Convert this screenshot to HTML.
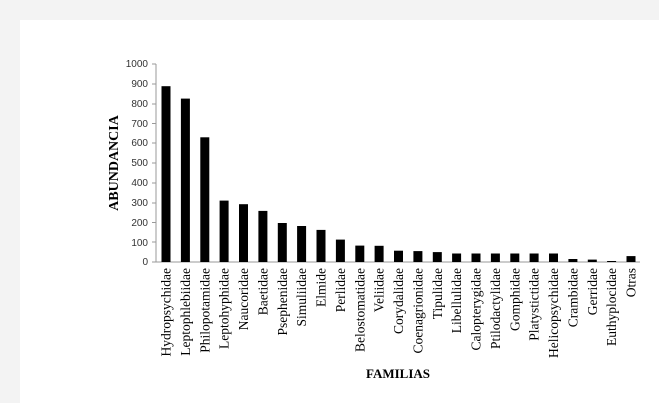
<!DOCTYPE html>
<html><head><meta charset="utf-8"><style>
html,body{margin:0;padding:0;background:#f3f3f3;}
svg{display:block;}
</style></head><body>
<svg width="659" height="403" xmlns="http://www.w3.org/2000/svg">
<rect x="0" y="0" width="659" height="403" fill="#f3f3f3"/>
<rect x="20" y="20" width="639" height="383" fill="#fff"/>
<g font-family="Liberation Sans, sans-serif" font-size="10" fill="#333" text-anchor="end">
<text x="148" y="67">1000</text><text x="148" y="87">900</text><text x="148" y="107">800</text><text x="148" y="127">700</text><text x="148" y="146">600</text><text x="148" y="166">500</text><text x="148" y="186">400</text><text x="148" y="206">300</text><text x="148" y="226">200</text><text x="148" y="246">100</text><text x="148" y="265">0</text>
</g>
<g stroke="#999" stroke-width="1">
<line x1="156" y1="64" x2="156" y2="262"/>
<line x1="156" y1="262" x2="640" y2="262"/>
<line x1="152" y1="64" x2="156" y2="64"/><line x1="152" y1="84" x2="156" y2="84"/><line x1="152" y1="104" x2="156" y2="104"/><line x1="152" y1="123.5" x2="156" y2="123.5"/><line x1="152" y1="143" x2="156" y2="143"/><line x1="152" y1="163" x2="156" y2="163"/><line x1="152" y1="183" x2="156" y2="183"/><line x1="152" y1="203" x2="156" y2="203"/><line x1="152" y1="222.5" x2="156" y2="222.5"/><line x1="152" y1="242" x2="156" y2="242"/><line x1="152" y1="262" x2="156" y2="262"/>
</g>
<g fill="#000">
<rect x="161.5" y="86.2" width="9" height="175.8"/>
<rect x="180.9" y="98.6" width="9" height="163.4"/>
<rect x="200.3" y="137.3" width="9" height="124.7"/>
<rect x="219.6" y="200.6" width="9" height="61.4"/>
<rect x="239" y="204.2" width="9" height="57.8"/>
<rect x="258.4" y="210.9" width="9" height="51.1"/>
<rect x="277.8" y="223" width="9" height="39"/>
<rect x="297.1" y="226" width="9" height="36"/>
<rect x="316.5" y="229.9" width="9" height="32.1"/>
<rect x="335.9" y="239.6" width="9" height="22.4"/>
<rect x="355.3" y="245.6" width="9" height="16.4"/>
<rect x="374.6" y="245.8" width="9" height="16.2"/>
<rect x="394" y="250.7" width="9" height="11.3"/>
<rect x="413.4" y="251.1" width="9" height="10.9"/>
<rect x="432.8" y="252.1" width="9" height="9.9"/>
<rect x="452.1" y="253.5" width="9" height="8.5"/>
<rect x="471.5" y="253.5" width="9" height="8.5"/>
<rect x="490.9" y="253.5" width="9" height="8.5"/>
<rect x="510.3" y="253.5" width="9" height="8.5"/>
<rect x="529.6" y="253.5" width="9" height="8.5"/>
<rect x="549" y="253.5" width="9" height="8.5"/>
<rect x="568.4" y="259" width="9" height="3"/>
<rect x="587.8" y="259.6" width="9" height="2.4"/>
<rect x="607.1" y="261" width="9" height="1"/>
<rect x="626.5" y="256.1" width="9" height="5.9"/>
</g>
<g font-family="Liberation Serif, serif" font-size="13.5" fill="#000" text-anchor="end">
<text transform="translate(170.5,268) rotate(-90)">Hydropsychidae</text>
<text transform="translate(189.9,268) rotate(-90)">Leptophlebiidae</text>
<text transform="translate(209.3,268) rotate(-90)">Philopotamidae</text>
<text transform="translate(228.6,268) rotate(-90)">Leptohyphidae</text>
<text transform="translate(248,268) rotate(-90)">Naucoridae</text>
<text transform="translate(267.4,268) rotate(-90)">Baetidae</text>
<text transform="translate(286.8,268) rotate(-90)">Psephenidae</text>
<text transform="translate(306.1,268) rotate(-90)">Simuliidae</text>
<text transform="translate(325.5,268) rotate(-90)">Elmide</text>
<text transform="translate(344.9,268) rotate(-90)">Perlidae</text>
<text transform="translate(364.3,268) rotate(-90)">Belostomatidae</text>
<text transform="translate(383.6,268) rotate(-90)">Veliidae</text>
<text transform="translate(403,268) rotate(-90)">Corydalidae</text>
<text transform="translate(422.4,268) rotate(-90)">Coenagrionidae</text>
<text transform="translate(441.8,268) rotate(-90)">Tipulidae</text>
<text transform="translate(461.1,268) rotate(-90)">Libellulidae</text>
<text transform="translate(480.5,268) rotate(-90)">Calopterygidae</text>
<text transform="translate(499.9,268) rotate(-90)">Ptilodactylidae</text>
<text transform="translate(519.3,268) rotate(-90)">Gomphidae</text>
<text transform="translate(538.6,268) rotate(-90)">Platystictidae</text>
<text transform="translate(558,268) rotate(-90)">Helicopsychidae</text>
<text transform="translate(577.4,268) rotate(-90)">Crambidae</text>
<text transform="translate(596.8,268) rotate(-90)">Gerridae</text>
<text transform="translate(616.1,268) rotate(-90)">Euthyplocidae</text>
<text transform="translate(635.5,268) rotate(-90)">Otras</text>
</g>
<text transform="translate(118,163) rotate(-90)" font-family="Liberation Serif, serif" font-size="14" font-weight="bold" text-anchor="middle">ABUNDANCIA</text>
<text x="398" y="378" font-family="Liberation Serif, serif" font-size="13" font-weight="bold" text-anchor="middle">FAMILIAS</text>
</svg>
</body></html>
